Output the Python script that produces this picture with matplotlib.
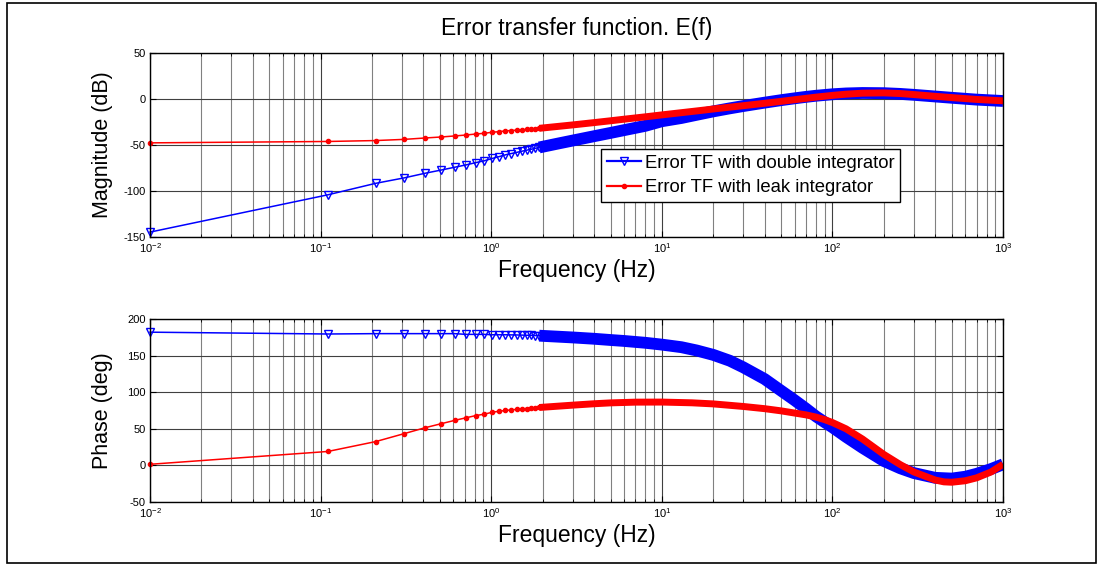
import numpy as np
import matplotlib.pyplot as plt
from matplotlib.lines import Line2D
from matplotlib.patches import Rectangle
from matplotlib.ticker import FixedLocator, NullFormatter

plt.rcParams['font.family'] = ['Liberation Sans', 'DejaVu Sans']
plt.rcParams['mathtext.fontset'] = 'custom'
plt.rcParams['mathtext.rm'] = 'Liberation Sans'
plt.rcParams['mathtext.it'] = 'Liberation Sans:italic'
plt.rcParams['axes.unicode_minus'] = False

# ---------------------------------------------------------------------------
# Data
# ---------------------------------------------------------------------------

# low-frequency samples where single markers are visible (linear 0.1 Hz step)
f_sparse = [0.01, 0.11, 0.21, 0.31, 0.41, 0.51, 0.61, 0.71, 0.81, 0.91, 1.01,
            1.11, 1.21, 1.31, 1.41, 1.51, 1.61, 1.71, 1.81, 1.91]
mag_double_sparse = [-145, -104.5, -92, -86, -81, -77.5, -74.5, -72, -69.5, -67.5, -65,
                     -63, -61, -59.6, -58.3, -57.1, -56, -55, -54, -53]
mag_leak_sparse = [-48, -46.5, -45.5, -44.2, -42.7, -41.6, -40.5, -39.5, -38.4, -37.6, -36.5,
                   -35.8, -35, -34.6, -34.2, -33.8, -33.4, -33, -32.6, -32.2]
phase_double_sparse = [182, 179.5, 180, 180, 180, 180, 180, 179, 179, 179, 178.5,
                       178.5, 178.5, 178.3, 178.2, 178, 177.8, 177.6, 177.4, 177.2]
phase_leak_sparse = [1.5, 19, 32.5, 43.5, 51.5, 57, 61.5, 65, 68, 70, 72.5,
                     74, 75, 75.8, 76.5, 77.1, 77.7, 78.2, 78.7, 79.1]

# higher frequencies: markers overlap into a solid band
f_mag_double = [1.91, 2.5, 3, 4, 5, 6, 8, 10, 13, 16, 20, 25, 30, 40, 50, 60, 70, 80,
                100, 120, 150, 200, 250, 300, 400, 500, 700, 1000]
mag_double = [-53, -48.5, -45.5, -40.8, -37.2, -34.2, -29.5, -24.5, -21, -17.5, -13.8,
              -10.5, -8, -4.3, -1.6, 0.4, 2, 3.2, 4.8, 5.7, 6.2, 6.0, 5.2, 4.2, 2.4,
              1.0, -1.0, -2.5]

f_mag_leak = [1.91, 3, 4, 5, 6, 8, 10, 13, 16, 20, 25, 30, 40, 50, 60, 80, 100, 120,
              150, 200, 250, 300, 400, 500, 700, 1000]
mag_leak = [-32.2, -28.5, -26, -24, -22.3, -19.7, -17.6, -15.2, -13.3, -11.2, -9.2, -7.6,
            -5.0, -2.9, -1.1, 1.7, 3.6, 4.9, 6.0, 6.3, 5.6, 4.5, 2.6, 1.2, -0.8, -2.3]

f_ph_double = [1.91, 3, 4, 5, 6, 8, 10, 13, 16, 20, 25, 30, 40, 50, 60, 70, 80, 90,
               100, 120, 150, 200, 250, 300, 400, 500, 600, 700, 850, 1000]
phase_double = [177.2, 174.8, 173, 171.3, 170, 167.5, 165, 161.5, 157, 151, 143, 134,
                118, 102, 89, 77.5, 67, 59, 52, 39, 24, 6, -4, -10.5, -17, -18, -15.5,
                -11.5, -5, 1.5]

f_ph_leak = [1.91, 3, 4, 5, 7, 10, 15, 20, 30, 40, 50, 60, 70, 80, 90, 100, 120, 150,
             200, 250, 300, 400, 450, 500, 600, 700, 850, 1000]
phase_leak = [79.1, 82.3, 84.2, 85.4, 86.4, 86.5, 85.5, 84, 80.5, 77.5, 74.5, 71.5, 69,
              66, 62.5, 58.5, 50, 36, 15, 1, -9, -20, -22.5, -23, -21, -17, -9, 1.5]

legend_labels = ['Error TF with double integrator', 'Error TF with leak integrator']
x_major = [0.01, 0.1, 1, 10, 100, 1000]
x_major_labels = [r'$10^{-2}$', r'$10^{-1}$', r'$10^{0}$', r'$10^{1}$', r'$10^{2}$', r'$10^{3}$']
x_minor = [m * d for d in [0.01, 0.1, 1, 10, 100] for m in range(2, 10)]
mag_ticks = [-150, -100, -50, 0, 50]
phase_ticks = [-50, 0, 50, 100, 150, 200]


def style_axes(ax, yticks):
    ax.set_xscale('log')
    ax.set_xlim(0.01, 1000)
    ax.set_ylim(yticks[0], yticks[-1])
    ax.set_yticks(yticks)
    ax.set_yticklabels([str(t) for t in yticks])
    ax.xaxis.set_major_locator(FixedLocator(x_major))
    ax.set_xticklabels(x_major_labels)
    ax.xaxis.set_minor_locator(FixedLocator(x_minor))
    ax.xaxis.set_minor_formatter(NullFormatter())
    ax.grid(which='major', color='0.25', lw=0.8)
    ax.grid(which='minor', axis='x', color='0.5', lw=0.8)
    ax.tick_params(which='both', direction='in', top=True, right=True, labelsize=8)
    ax.tick_params(which='major', length=4, width=0.8, pad=3)
    ax.tick_params(which='minor', length=2.5, width=0.6)
    for sp in ax.spines.values():
        sp.set_linewidth(1.0)


def draw_pair(ax, blue_sparse, f_blue, blue, red_sparse, f_red, red):
    # MATLAB draws markers over the axes edge, so no clipping for the sparse part
    ax.plot(f_sparse, blue_sparse, color='blue', lw=1.1, marker='v', ms=5.5,
            mfc='none', mew=1.0, clip_on=False)
    ax.plot(f_blue, blue, color='blue', lw=8.5, solid_capstyle='butt',
            solid_joinstyle='round')
    ax.plot(f_sparse, red_sparse, color='red', lw=1.1, marker='.', ms=6, clip_on=False)
    ax.plot(f_red, red, color='red', lw=5, solid_capstyle='butt',
            solid_joinstyle='round')


fig = plt.figure(figsize=(11, 5.66), dpi=100)
fig.patches.append(Rectangle((0.0064, 0.0053), 0.99, 0.9894, transform=fig.transFigure,
                             fill=False, edgecolor='k', lw=1.2))

ax1 = fig.add_axes([0.1364, 0.5818, 0.7755, 0.3251])
ax2 = fig.add_axes([0.1364, 0.1131, 0.7755, 0.3233])

# --- magnitude ---
style_axes(ax1, mag_ticks)
draw_pair(ax1, mag_double_sparse, f_mag_double, mag_double,
          mag_leak_sparse, f_mag_leak, mag_leak)
ax1.set_title('Error transfer function. E(f)', fontsize=16.5, pad=13)
ax1.set_ylabel('Magnitude (dB)', fontsize=15.5)
ax1.set_xlabel('Frequency (Hz)', fontsize=16.5, va='top')
ax1.yaxis.set_label_coords(-0.043, 0.5)
ax1.xaxis.set_label_coords(0.5, -0.12)

handles = [Line2D([], [], color='blue', lw=1.6, marker='v', ms=5.5, mfc='none'),
           Line2D([], [], color='red', lw=1.6, marker='.', ms=6)]
leg = ax1.legend(handles, legend_labels, loc='upper left', bbox_to_anchor=(0.529, 0.475),
                 fontsize=13.3, frameon=True, fancybox=False, edgecolor='k', framealpha=1,
                 borderpad=0.3, handlelength=1.85, handletextpad=0.2, labelspacing=0.4,
                 borderaxespad=0)
leg.get_frame().set_linewidth(1.0)

# --- phase ---
style_axes(ax2, phase_ticks)
draw_pair(ax2, phase_double_sparse, f_ph_double, phase_double,
          phase_leak_sparse, f_ph_leak, phase_leak)
ax2.set_ylabel('Phase (deg)', fontsize=15.5)
ax2.set_xlabel('Frequency (Hz)', fontsize=16.5, va='top')
ax2.yaxis.set_label_coords(-0.043, 0.5)
ax2.xaxis.set_label_coords(0.5, -0.12)

fig.savefig('out.png', dpi=100)
